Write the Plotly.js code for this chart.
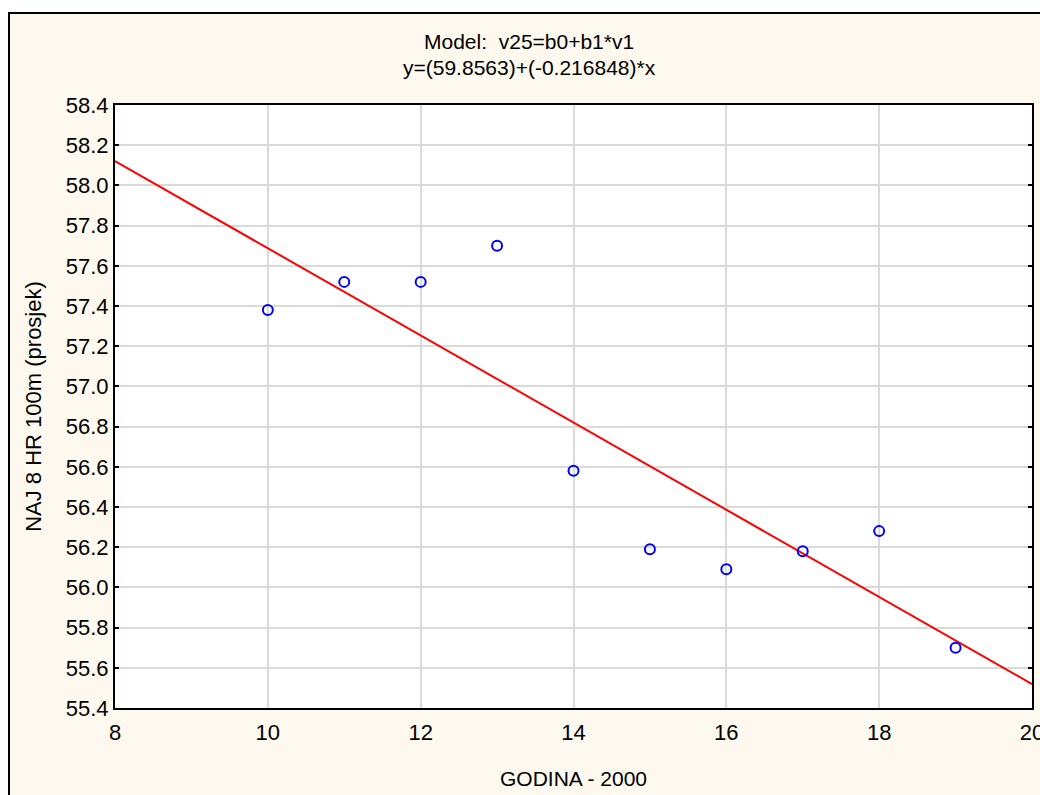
<!DOCTYPE html>
<html>
<head>
<meta charset="utf-8">
<script src="https://cdn.plot.ly/plotly-3.0.1.min.js"></script>
<style>
  html, body { margin:0; padding:0; background:#ffffff; overflow:hidden; }
  #frame { position:absolute; left:8px; top:12px; width:1060px; height:820px;
           background:#FDF9EE; border:2px solid #000; box-sizing:border-box; }
  #chart { position:absolute; left:0; top:0; width:1040px; height:795px; }
</style>
</head>
<body>
<div id="frame"></div>
<div id="chart"></div>
<script>
// Data
const godina = [10, 11, 12, 13, 14, 15, 16, 17, 18, 19];
const naj8 = [57.38, 57.52, 57.52, 57.70, 56.58, 56.19, 56.09, 56.18, 56.28, 55.70];
// Fitted line y = 59.8563 + (-0.216848)*x, endpoints at axis limits
const fitX = [8, 20];
const fitY = [58.121, 55.519];
const xTicks = [8, 10, 12, 14, 16, 18, 20];
const titleLine1 = 'Model:\u00a0 v25=b0+b1*v1';
const titleLine2 = 'y=(59.8563)+(-0.216848)*x';
const xTitle = 'GODINA - 2000';
const yTitle = 'NAJ 8 HR 100m (prosjek)';

const FONT = 'Liberation Sans, Arial, sans-serif';

const traces = [
  {
    x: fitX, y: fitY, mode: 'lines', type: 'scatter',
    line: {color: '#FF0000', width: 2}, hoverinfo: 'skip', cliponaxis: true
  },
  {
    x: godina, y: naj8, mode: 'markers', type: 'scatter',
    marker: {symbol: 'circle-open', size: 10, color: '#0000FF', line: {color: '#0000FF', width: 2}},
    cliponaxis: false
  }
];

const layout = {
  width: 1040, height: 795,
  margin: {l: 115, r: 8, t: 105, b: 87, pad: 0},
  paper_bgcolor: 'rgba(0,0,0,0)',
  plot_bgcolor: '#FFFFFF',
  showlegend: false,
  font: {family: FONT, size: 22, color: '#000'},
  xaxis: {
    range: [8, 20], tickvals: xTicks, ticktext: xTicks.map(String),
    showgrid: true, gridcolor: '#DADADA', gridwidth: 2,
    zeroline: false, showline: true, linecolor: '#000', linewidth: 2, mirror: true,
    ticks: '', ticklabelstandoff: 4, ticklabeloverflow: 'allow',
    tickfont: {family: FONT, size: 22, color: '#000'},
    title: {text: xTitle, font: {family: FONT, size: 21, color: '#000'}, standoff: 27}
  },
  yaxis: {
    range: [55.4, 58.4], dtick: 0.2, tick0: 55.4, tickformat: '.1f',
    showgrid: true, gridcolor: '#DADADA', gridwidth: 2,
    zeroline: false, showline: true, linecolor: '#000', linewidth: 2, mirror: 'ticks',
    ticks: 'inside', ticklen: 4, tickwidth: 2, tickcolor: '#000',
    ticklabeloverflow: 'allow',
    tickfont: {family: FONT, size: 22, color: '#000'},
    title: {text: yTitle, font: {family: FONT, size: 22, color: '#000'}, standoff: 18}
  },
  annotations: [
    {text: titleLine1, xref: 'paper', yref: 'paper', x: 0.4515, y: 1.1045,
     xanchor: 'center', yanchor: 'middle', showarrow: false,
     font: {family: FONT, size: 21, color: '#000'}},
    {text: titleLine2, xref: 'paper', yref: 'paper', x: 0.4515, y: 1.0614,
     xanchor: 'center', yanchor: 'middle', showarrow: false,
     font: {family: FONT, size: 21, color: '#000'}}
  ]
};

Plotly.newPlot('chart', traces, layout, {staticPlot: true, displayModeBar: false});
</script>
</body>
</html>
